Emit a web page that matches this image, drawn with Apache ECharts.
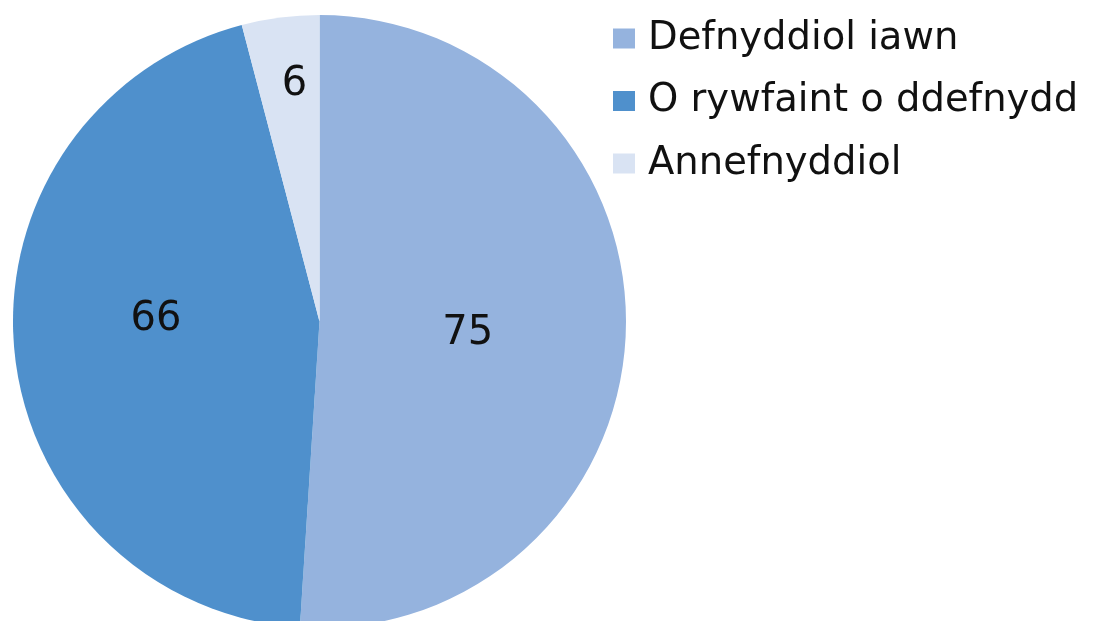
<!DOCTYPE html>
<html><head><meta charset="utf-8">
<script src="https://cdn.jsdelivr.net/npm/echarts@6/dist/echarts.min.js"></script>
<style>html,body{margin:0;padding:0;background:#fff}#c{width:1099px;height:621px}</style>
</head><body><div id="c"></div>
<script>
const categories = ['Defnyddiol iawn', 'O rywfaint o ddefnydd', 'Annefnyddiol'];
const values = [75, 66, 6];
const colors = ['#95B3DE', '#4F90CC', '#D9E3F3'];
const labelShift = [[-8, 7], [-8, -17], [-5, -82]];

const chart = echarts.init(document.getElementById('c'), null, {renderer: 'canvas'});
chart.setOption({
  animation: false,
  legend: {
    orient: 'vertical',
    left: 608,
    top: 13.5,
    icon: 'rect',
    itemWidth: 22,
    itemHeight: 20,
    itemGap: 22.5,
    textStyle: {fontFamily: 'DejaVu Sans', fontSize: 38.5, color: '#111', lineHeight: 40, padding: [0, 0, 0, 8]},
    data: categories
  },
  series: [{
    type: 'pie',
    center: [319.5, 321.5],
    radius: 306.5,
    startAngle: 90,
    clockwise: true,
    avoidLabelOverlap: false,
    label: {position: 'inside', formatter: '{c}', fontFamily: 'DejaVu Sans', fontSize: 40, color: '#111'},
    labelLine: {show: false},
    labelLayout: function (p) { const s = labelShift[p.dataIndex]; return {dx: s[0], dy: s[1]}; },
    emphasis: {disabled: true},
    data: categories.map((n, i) => ({name: n, value: values[i], itemStyle: {color: colors[i]}}))
  }]
});
</script></body></html>
